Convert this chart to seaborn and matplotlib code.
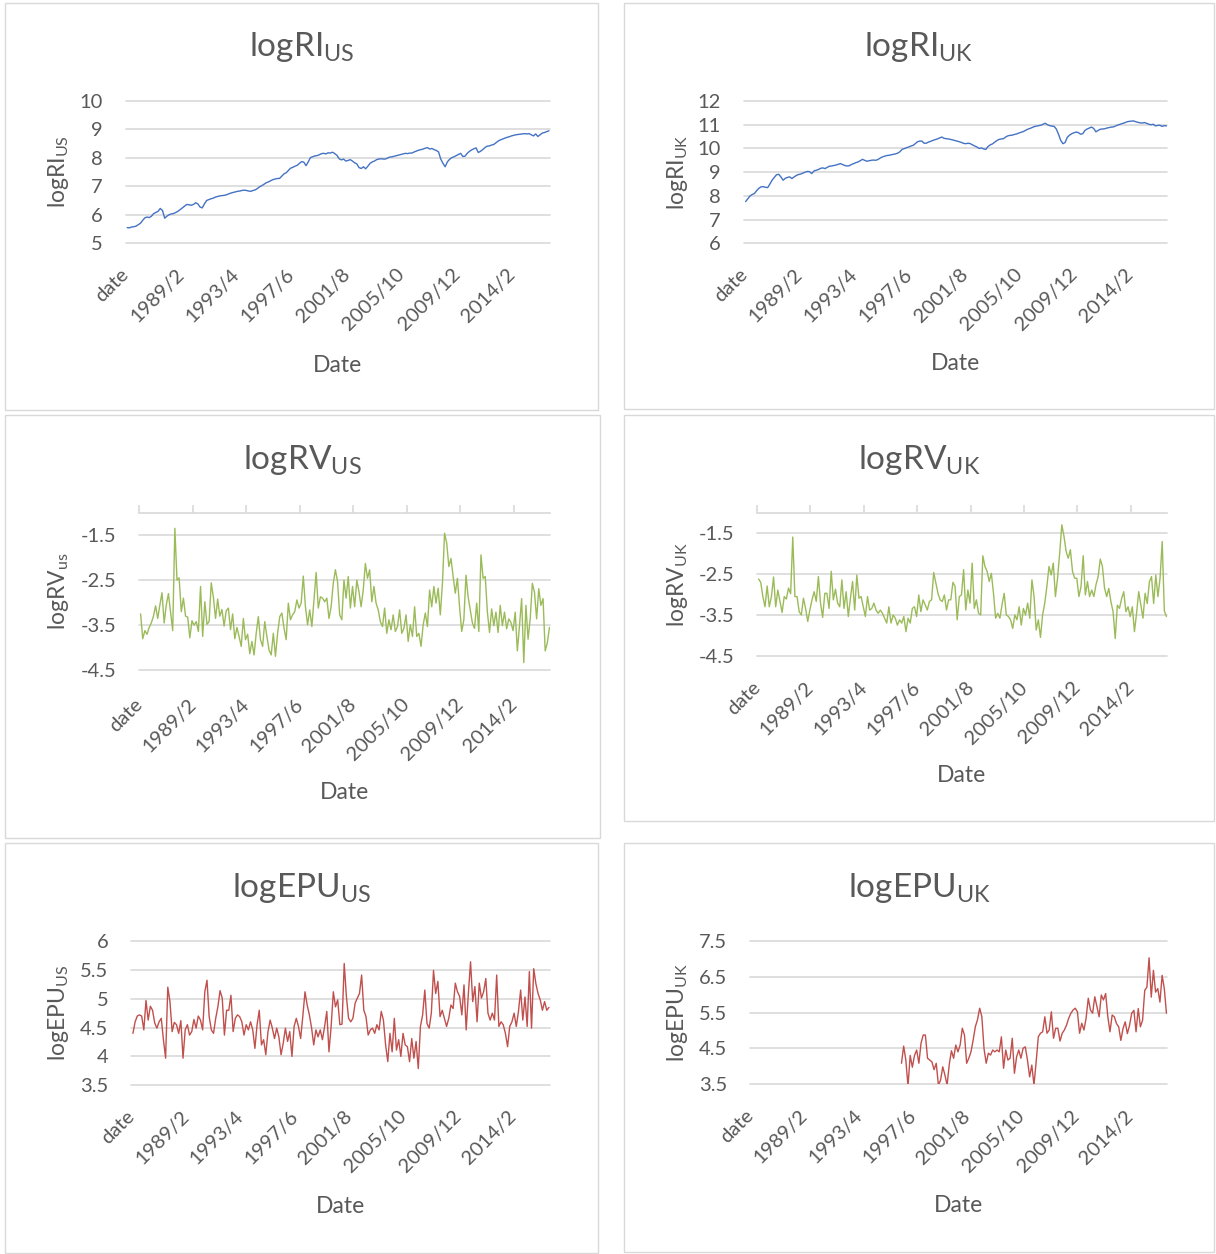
import matplotlib
matplotlib.use("Agg")
import matplotlib.pyplot as plt
import seaborn as sns
import pandas as pd
from matplotlib.patches import Rectangle

# ------------------------------------------------------------------ data
FIRST_YEAR = 1985
N_MONTHS = 383
categories = ["date"] + [f"{FIRST_YEAR + k // 12}/{k % 12 + 1}" for k in range(N_MONTHS)]
LABEL_STEP = 50
tick_idx = list(range(0, len(categories), LABEL_STEP))
tick_labels = [categories[i] for i in tick_idx]

# values read every second month (category index 1, 3, ..., 383)
idx_main = list(range(1, len(categories), 2))

ri_us = [
    5.55, 5.54, 5.57, 5.58, 5.60, 5.65, 5.70, 5.80, 5.89, 5.92, 5.90, 5.95,
    6.04, 6.08, 6.12, 6.22, 6.15, 5.88, 5.95, 6.00, 6.03, 6.04, 6.08, 6.12,
    6.18, 6.24, 6.30, 6.36, 6.35, 6.33, 6.36, 6.42, 6.38, 6.27, 6.24, 6.38,
    6.50, 6.53, 6.56, 6.58, 6.62, 6.64, 6.66, 6.67, 6.68, 6.70, 6.73, 6.76,
    6.78, 6.80, 6.82, 6.83, 6.85, 6.86, 6.85, 6.83, 6.82, 6.85, 6.87, 6.92,
    6.98, 7.02, 7.07, 7.12, 7.15, 7.19, 7.23, 7.25, 7.27, 7.27, 7.35, 7.43,
    7.47, 7.55, 7.63, 7.66, 7.70, 7.73, 7.80, 7.86, 7.84, 7.72, 7.85, 8.00,
    8.03, 8.06, 8.07, 8.10, 8.14, 8.15, 8.13, 8.17, 8.16, 8.19, 8.14, 8.08,
    7.96, 7.92, 7.95, 7.88, 7.90, 7.93, 7.88, 7.82, 7.78, 7.65, 7.62, 7.68,
    7.61, 7.70, 7.80, 7.85, 7.88, 7.93, 7.95, 7.96, 7.95, 7.95, 7.99, 8.02,
    8.03, 8.05, 8.07, 8.09, 8.11, 8.13, 8.15, 8.14, 8.16, 8.16, 8.20, 8.23,
    8.26, 8.28, 8.30, 8.33, 8.35, 8.30, 8.32, 8.28, 8.25, 8.20, 7.95, 7.80,
    7.68, 7.85, 7.94, 8.00, 8.03, 8.07, 8.11, 8.15, 8.04, 8.05, 8.15, 8.22,
    8.27, 8.31, 8.34, 8.18, 8.22, 8.28, 8.35, 8.40, 8.41, 8.44, 8.46, 8.52,
    8.58, 8.62, 8.65, 8.68, 8.71, 8.73, 8.76, 8.78, 8.80, 8.81, 8.82, 8.83,
    8.84, 8.83, 8.84, 8.80, 8.76, 8.83, 8.74, 8.80, 8.86, 8.88, 8.91, 8.94,
]

ri_uk = [
    7.76, 7.88, 8.00, 8.06, 8.10, 8.22, 8.32, 8.38, 8.39, 8.36, 8.35, 8.50,
    8.66, 8.78, 8.89, 8.91, 8.80, 8.66, 8.74, 8.78, 8.80, 8.73, 8.80, 8.86,
    8.90, 8.92, 8.96, 9.00, 9.03, 9.02, 8.94, 9.05, 9.08, 9.11, 9.16, 9.18,
    9.15, 9.20, 9.25, 9.26, 9.28, 9.30, 9.33, 9.36, 9.32, 9.28, 9.26, 9.27,
    9.32, 9.36, 9.40, 9.43, 9.48, 9.54, 9.50, 9.46, 9.48, 9.50, 9.51, 9.50,
    9.53, 9.59, 9.64, 9.67, 9.70, 9.71, 9.73, 9.75, 9.77, 9.80, 9.86, 9.96,
    9.99, 10.03, 10.06, 10.10, 10.13, 10.20, 10.28, 10.31, 10.31, 10.22, 10.22, 10.27,
    10.30, 10.34, 10.37, 10.40, 10.44, 10.48, 10.43, 10.41, 10.40, 10.38, 10.36, 10.33,
    10.31, 10.28, 10.25, 10.21, 10.20, 10.22, 10.20, 10.15, 10.10, 10.06, 10.00, 10.02,
    9.98, 9.96, 10.08, 10.15, 10.19, 10.26, 10.33, 10.38, 10.40, 10.41, 10.48, 10.53,
    10.55, 10.56, 10.59, 10.61, 10.65, 10.68, 10.71, 10.76, 10.81, 10.84, 10.88, 10.92,
    10.94, 10.96, 10.98, 11.02, 11.06, 11.00, 10.96, 10.94, 10.93, 10.82, 10.60, 10.34,
    10.20, 10.25, 10.47, 10.56, 10.62, 10.66, 10.69, 10.67, 10.60, 10.62, 10.76, 10.82,
    10.86, 10.90, 10.84, 10.70, 10.76, 10.81, 10.82, 10.83, 10.86, 10.88, 10.90, 10.91,
    10.95, 10.99, 11.02, 11.05, 11.08, 11.12, 11.14, 11.15, 11.16, 11.13, 11.10, 11.08,
    11.07, 11.09, 11.06, 11.02, 11.00, 11.02, 10.95, 10.97, 10.98, 10.93, 10.96, 10.95,
]

rv_us = [
    -3.25, -3.80, -3.62, -3.70, -3.55, -3.45, -3.30, -3.07, -3.35, -3.05, -2.78, -3.45,
    -3.05, -2.80, -3.20, -3.62, -1.35, -2.50, -2.45, -3.20, -2.90, -3.30, -3.32, -3.78,
    -3.40, -3.50, -3.42, -3.64, -2.64, -3.75, -2.98, -3.48, -3.42, -2.56, -2.88, -3.35,
    -2.92, -3.30, -3.15, -3.52, -3.18, -3.12, -3.60, -3.25, -3.80, -3.55, -3.75, -3.97,
    -3.35, -3.82, -3.70, -4.13, -3.86, -4.16, -3.68, -3.31, -3.82, -3.97, -3.42, -3.75,
    -4.05, -4.16, -3.68, -4.19, -3.68, -3.31, -3.23, -3.57, -3.82, -3.01, -3.38, -3.27,
    -3.20, -2.94, -3.12, -3.01, -2.41, -3.09, -3.49, -3.16, -3.53, -2.94, -2.33, -3.12,
    -2.87, -2.90, -2.98, -2.90, -3.35, -3.09, -2.57, -2.27, -2.53, -3.27, -3.38, -2.50,
    -2.90, -2.42, -3.12, -2.64, -3.09, -2.50, -2.75, -3.09, -2.72, -2.13, -2.46, -2.27,
    -2.98, -2.64, -3.01, -3.16, -3.42, -3.53, -3.12, -3.68, -3.38, -3.60, -3.27, -3.64,
    -3.53, -3.16, -3.68, -3.57, -3.27, -3.86, -3.49, -3.75, -3.09, -3.75, -3.68, -3.97,
    -3.49, -3.23, -3.53, -2.72, -3.09, -2.64, -3.01, -2.68, -3.27, -2.57, -1.46, -1.68,
    -2.20, -2.02, -2.42, -2.79, -2.46, -3.09, -3.64, -3.38, -2.39, -2.87, -3.16, -3.45,
    -3.57, -3.01, -3.64, -1.94, -2.46, -2.42, -3.21, -3.66, -3.14, -3.51, -3.21, -3.66,
    -3.06, -3.51, -3.21, -3.58, -3.36, -3.44, -3.62, -3.21, -4.07, -3.51, -2.91, -4.33,
    -3.06, -3.81, -3.36, -2.57, -2.77, -3.36, -2.69, -3.06, -2.91, -4.07, -3.89, -3.55,
]

rv_uk = [
    -2.62, -2.70, -3.05, -3.30, -2.79, -3.30, -3.05, -2.57, -3.30, -2.89, -3.17, -3.44,
    -3.05, -3.11, -2.84, -2.98, -1.59, -3.05, -3.05, -3.42, -3.50, -3.09, -3.34, -3.66,
    -3.38, -3.13, -2.93, -3.17, -2.56, -3.21, -3.56, -2.97, -2.97, -3.34, -2.43, -3.13,
    -2.87, -3.21, -3.30, -2.64, -3.34, -2.93, -3.54, -3.09, -2.68, -3.38, -2.52, -3.09,
    -3.05, -3.30, -3.54, -3.05, -3.38, -3.34, -3.21, -3.38, -3.46, -3.38, -3.46, -3.58,
    -3.70, -3.30, -3.70, -3.50, -3.58, -3.75, -3.62, -3.70, -3.54, -3.91, -3.58, -3.70,
    -3.34, -3.30, -3.54, -3.01, -3.42, -3.13, -3.25, -3.38, -3.17, -3.13, -2.46, -2.72,
    -2.97, -3.13, -3.17, -3.01, -3.38, -3.13, -3.13, -2.70, -2.80, -3.62, -3.05, -3.01,
    -2.39, -3.38, -2.89, -3.21, -2.23, -3.34, -3.13, -3.46, -3.50, -2.05, -2.31, -2.43,
    -2.68, -2.48, -2.97, -3.58, -3.46, -3.58, -3.25, -2.97, -3.50, -3.54, -3.62, -3.83,
    -3.50, -3.62, -3.30, -3.75, -3.34, -3.50, -3.21, -3.58, -2.64, -3.05, -3.87, -3.62,
    -4.05, -3.50, -3.21, -2.80, -2.31, -2.52, -2.23, -3.05, -2.60, -1.98, -1.29, -1.57,
    -1.94, -2.11, -1.90, -2.43, -2.60, -2.60, -3.05, -2.80, -2.05, -3.01, -2.68, -3.05,
    -2.89, -3.05, -2.76, -2.56, -2.13, -2.31, -2.84, -3.05, -2.85, -3.18, -3.42, -4.08,
    -3.26, -3.34, -3.10, -2.93, -3.42, -3.30, -3.54, -3.30, -3.91, -3.46, -2.93, -3.26,
    -3.58, -2.97, -3.22, -2.69, -2.56, -3.22, -2.52, -3.05, -2.60, -1.70, -3.40, -3.54,
]

epu_us = [
    4.40, 4.60, 4.70, 4.72, 4.70, 4.46, 4.97, 4.63, 4.87, 4.80, 4.58, 4.49,
    4.60, 4.66, 4.29, 3.97, 5.20, 4.95, 4.43, 4.59, 4.55, 4.40, 4.62, 3.97,
    4.46, 4.55, 4.37, 4.43, 4.64, 4.49, 4.70, 4.63, 4.46, 5.12, 5.32, 4.69,
    4.46, 4.40, 4.66, 4.86, 5.14, 5.01, 4.37, 4.80, 4.80, 5.06, 4.43, 4.66,
    4.72, 4.69, 4.60, 4.37, 4.55, 4.46, 4.60, 4.46, 4.14, 4.55, 4.80, 4.20,
    4.29, 4.03, 4.43, 4.63, 4.49, 4.31, 4.49, 4.34, 4.03, 4.23, 4.49, 4.26,
    4.43, 4.00, 4.52, 4.66, 4.52, 4.31, 4.70, 5.12, 4.89, 4.72, 4.50, 4.20,
    4.46, 4.34, 4.46, 4.29, 4.52, 4.78, 4.08, 4.52, 5.12, 4.86, 4.98, 4.55,
    4.56, 5.61, 5.04, 4.66, 4.60, 4.66, 4.92, 5.01, 5.09, 5.41, 4.80, 4.69,
    4.37, 4.46, 4.49, 4.40, 4.55, 4.46, 4.78, 4.63, 4.20, 3.91, 4.40, 4.08,
    4.66, 4.11, 4.29, 4.00, 4.40, 4.20, 4.17, 3.91, 4.31, 3.97, 4.26, 3.79,
    4.52, 4.72, 5.15, 4.57, 4.49, 4.75, 5.49, 5.09, 5.30, 4.69, 4.80, 4.66,
    4.52, 4.66, 4.89, 4.83, 5.27, 5.12, 5.04, 4.72, 5.24, 4.46, 5.09, 5.64,
    4.95, 5.21, 4.60, 5.27, 5.01, 5.12, 5.35, 4.75, 4.63, 4.75, 4.63, 5.41,
    4.52, 4.60, 4.55, 4.40, 4.17, 4.52, 4.60, 4.75, 4.52, 4.78, 5.15, 4.63,
    5.03, 4.52, 5.47, 4.49, 5.52, 5.26, 5.09, 4.98, 4.80, 4.95, 4.80, 4.85,
]

# UK EPU only exists from category index 139 on
idx_epu_uk = list(range(139, len(categories), 2))
epu_uk = [
    4.08, 4.56, 4.17, 3.44, 4.30, 3.97, 4.30, 4.45, 4.08, 4.64, 4.87, 4.87,
    4.22, 4.17, 4.12, 3.90, 4.08, 3.47, 3.61, 3.98, 3.75, 3.47, 4.05, 4.43,
    4.22, 4.59, 4.40, 4.59, 5.06, 4.87, 4.08, 4.22, 4.40, 4.73, 5.10, 5.30,
    5.62, 5.38, 4.49, 4.08, 4.36, 4.31, 4.45, 4.40, 4.45, 4.40, 4.82, 3.94,
    4.45, 4.17, 4.22, 4.78, 3.80, 4.26, 4.45, 4.22, 4.50, 4.54, 4.17, 3.70,
    4.03, 3.47, 4.12, 4.82, 4.92, 4.96, 5.38, 4.92, 5.01, 5.52, 4.78, 5.06,
    5.06, 4.70, 4.92, 5.01, 5.15, 5.34, 5.48, 5.57, 5.62, 5.52, 4.92, 5.20,
    5.01, 5.34, 5.90, 5.57, 5.48, 5.94, 5.66, 5.38, 5.99, 5.85, 6.03, 5.38,
    4.96, 5.43, 5.38, 5.19, 5.10, 4.72, 5.05, 5.24, 4.91, 5.14, 5.48, 5.56,
    4.96, 5.61, 5.10, 5.28, 6.12, 6.21, 7.03, 5.93, 6.68, 6.07, 6.17, 5.79,
    6.54, 6.17, 5.48,
]

# ------------------------------------------------------------------ style
sns.set_theme(style="white")
plt.rcParams["font.family"] = ["Lato", "DejaVu Sans"]
plt.rcParams["mathtext.fontset"] = "custom"
plt.rcParams["mathtext.rm"] = "Lato"
plt.rcParams["mathtext.it"] = "Lato:italic"
plt.rcParams["mathtext.bf"] = "Lato:bold"

TXT = "#595959"
GRID = "#D9D9D9"
BLUE = "#4472C4"
GREEN = "#9BBB59"
RED = "#C0504D"

W, H = 1216, 1254
fig = plt.figure(figsize=(W / 100, H / 100), dpi=100)
fig.patch.set_facecolor("white")


def fx(x):
    return x / W


def fy(y):
    return 1 - y / H


PT = 72 / 100  # points per pixel

panels = [
    dict(box=(5, 3, 598, 410), area=(125.5, 100.5, 549.5, 243.3), x=idx_main, y=ri_us,
         color=BLUE, ylim=(5, 10), yticks=[5, 6, 7, 8, 9, 10],
         title=r"$\mathregular{logRI_{US}}$", ylabel=r"$\mathregular{logRI_{US}}$",
         title_y=56.5, ylab_x=58.5, date_y=372, xpad=28, top_axis=False),
    dict(box=(624, 3, 1214, 409), area=(744, 101, 1167, 243.3), x=idx_main, y=ri_uk,
         color=BLUE, ylim=(6, 12), yticks=[6, 7, 8, 9, 10, 11, 12],
         title=r"$\mathregular{logRI_{UK}}$", ylabel=r"$\mathregular{logRI_{UK}}$",
         title_y=56.5, ylab_x=677.5, date_y=370, xpad=28, top_axis=False),
    dict(box=(5, 415, 600, 838), area=(139, 512.5, 550, 670.3), x=idx_main, y=rv_us,
         color=GREEN, ylim=(-4.5, -1.0), yticks=[-4.5, -3.5, -2.5, -1.5],
         title=r"$\mathregular{logRV_{US}}$", ylabel=r"$\mathregular{logRV_{us}}$",
         title_y=469, ylab_x=58.5, date_y=799, xpad=31, top_axis=True),
    dict(box=(624, 415, 1214, 821), area=(757, 513, 1167, 655.7), x=idx_main, y=rv_uk,
         color=GREEN, ylim=(-4.5, -1.0), yticks=[-4.5, -3.5, -2.5, -1.5],
         title=r"$\mathregular{logRV_{UK}}$", ylabel=r"$\mathregular{logRV_{UK}}$",
         title_y=469, ylab_x=677.5, date_y=782.5, xpad=29, top_axis=True),
    dict(box=(5, 843, 598, 1253), area=(131.3, 941, 549.5, 1085.3), x=idx_main, y=epu_us,
         color=RED, ylim=(3.5, 6), yticks=[3.5, 4, 4.5, 5, 5.5, 6],
         title=r"$\mathregular{logEPU_{US}}$", ylabel=r"$\mathregular{logEPU_{US}}$",
         title_y=897, ylab_x=58.5, date_y=1213, xpad=28, top_axis=False),
    dict(box=(624, 843, 1214, 1252), area=(750, 941, 1167, 1084), x=idx_epu_uk, y=epu_uk,
         color=RED, ylim=(3.5, 7.5), yticks=[3.5, 4.5, 5.5, 6.5, 7.5],
         title=r"$\mathregular{logEPU_{UK}}$", ylabel=r"$\mathregular{logEPU_{UK}}$",
         title_y=897, ylab_x=677.5, date_y=1212, xpad=29, top_axis=False),
]

TITLE_FS = 24
LABEL_FS = 16.5
TICK_FS = 14.5

for p in panels:
    bx0, by0, bx1, by1 = p["box"]
    fig.add_artist(Rectangle((fx(bx0), fy(by1)), (bx1 - bx0) / W, (by1 - by0) / H,
                             transform=fig.transFigure, fill=False,
                             edgecolor=GRID, linewidth=1.0))
    ax0, ay0, ax1, ay1 = p["area"]
    ax = fig.add_axes([fx(ax0), fy(ay1), (ax1 - ax0) / W, (ay1 - ay0) / H])
    ax.set_facecolor("none")

    df = pd.DataFrame({"cat": p["x"], "val": p["y"]})
    sns.lineplot(data=df, x="cat", y="val", ax=ax, color=p["color"],
                 linewidth=1.0, estimator=None)

    ax.set_xlim(-0.5, len(categories) - 0.5)
    ax.set_ylim(*p["ylim"])
    ax.set_xlabel("")
    ax.set_ylabel("")

    ax.set_yticks(p["yticks"])
    ax.set_yticklabels([f"{v:g}" for v in p["yticks"]])
    ax.tick_params(axis="y", length=0, pad=23 * PT, labelsize=TICK_FS, labelcolor=TXT)
    ax.grid(axis="y", color=GRID, linewidth=1.2)
    ax.grid(axis="x", visible=False)
    for gl in ax.get_ygridlines():
        gl.set_clip_on(False)

    ax.set_xticks(tick_idx)
    ax.set_xticklabels(tick_labels, rotation=45, ha="right", va="center",
                       rotation_mode="anchor")
    ax.tick_params(axis="x", which="major", length=0, pad=p["xpad"] * PT,
                   labelsize=TICK_FS, labelcolor=TXT, bottom=False, top=False,
                   labelbottom=True)

    for s in ax.spines.values():
        s.set_visible(False)
    if p["top_axis"]:
        ax.spines["top"].set_visible(True)
        ax.spines["top"].set_color(GRID)
        ax.spines["top"].set_linewidth(1.2)
        ax.set_xticks([v - 0.5 for v in tick_idx], minor=True)
        ax.tick_params(axis="x", which="minor", top=True, bottom=False,
                       length=5.5, width=1.2, color=GRID, direction="out")
    else:
        ax.tick_params(axis="x", which="minor", top=False, bottom=False)

    cx_box = (bx0 + bx1) / 2
    cx_area = (ax0 + ax1) / 2
    cy_area = (ay0 + ay1) / 2
    fig.text(fx(cx_box), fy(p["title_y"]), p["title"], ha="center", va="baseline",
             fontsize=TITLE_FS, color=TXT)
    fig.text(fx(p["ylab_x"]), fy(cy_area), p["ylabel"], rotation=90,
             ha="center", va="center", fontsize=LABEL_FS, color=TXT)
    fig.text(fx(cx_area), fy(p["date_y"]), "Date", ha="center", va="baseline",
             fontsize=LABEL_FS, color=TXT)

fig.savefig("out.png", dpi=100, facecolor="white")
